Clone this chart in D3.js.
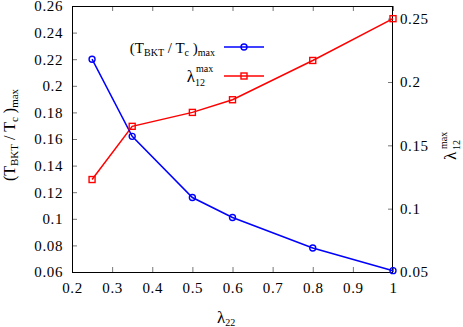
<!DOCTYPE html>
<html>
<head>
<meta charset="utf-8">
<script src="https://cdn.jsdelivr.net/npm/d3@7"></script>
<style>
  body { margin: 0; background: #fff; }
  svg { display: block; font-family: "Liberation Serif", "Times New Roman", Times, "DejaVu Serif", serif; }
</style>
</head>
<body>
<svg width="463" height="327"></svg>
<script>
// lambda_22 values (x)
const lambda22 = [0.25, 0.35, 0.5, 0.6, 0.8, 1.0];
// (T_BKT / T_c)_max on the left axis
const tbktMax = [0.22, 0.162, 0.116, 0.101, 0.078, 0.061];
// lambda_12^max on the right axis
const lambda12Max = [0.123, 0.165, 0.176, 0.186, 0.217, 0.25];

const xTicks = [0.2, 0.3, 0.4, 0.5, 0.6, 0.7, 0.8, 0.9, 1];
const yLeftTicks = [0.06, 0.08, 0.1, 0.12, 0.14, 0.16, 0.18, 0.2, 0.22, 0.24, 0.26];
const yRightTicks = [0.05, 0.1, 0.15, 0.2, 0.25];

const serif = '"Liberation Serif", "Times New Roman", Times, "DejaVu Serif", serif';

const svg = d3.select("svg"),
    margin = { top: 6, right: 70, bottom: 55, left: 72 },
    W = 463, H = 327,
    plotL = margin.left, plotR = W - margin.right,
    plotT = margin.top, plotB = H - margin.bottom;

const x = d3.scaleLinear().domain([0.2, 1]).range([plotL, plotR]);
const yL = d3.scaleLinear().domain([0.06, 0.26]).range([plotB, plotT]);
const yR = d3.scaleLinear().domain([0.05, 0.26]).range([plotB, plotT]);

const fmt = d => String(d);

// inward ticks, serif labels
function style(g) {
  g.select(".domain").remove();
  g.attr("font-family", serif).attr("font-size", 15);
  g.selectAll(".tick line").attr("stroke", "#777");
  g.selectAll(".tick text").attr("fill", "#000").attr("letter-spacing", 0.6);
}

svg.append("g").attr("transform", `translate(0,${plotB})`)
    .call(d3.axisBottom(x).tickValues(xTicks).tickSize(-5).tickPadding(10).tickFormat(fmt))
    .call(style);
svg.append("g").attr("transform", `translate(0,${plotT})`)
    .call(d3.axisTop(x).tickValues(xTicks).tickSize(-5).tickFormat(""))
    .call(style);
svg.append("g").attr("transform", `translate(${plotL},0)`)
    .call(d3.axisLeft(yL).tickValues(yLeftTicks).tickSize(-5).tickPadding(9).tickFormat(fmt))
    .call(style);
svg.append("g").attr("transform", `translate(${plotR},0)`)
    .call(d3.axisRight(yR).tickValues(yRightTicks).tickSize(-5).tickPadding(7).tickFormat(fmt))
    .call(style);

// border
svg.append("rect")
    .attr("x", plotL + 0.5).attr("y", plotT + 0.5)
    .attr("width", plotR - plotL - 1).attr("height", plotB - plotT)
    .attr("fill", "none").attr("stroke", "#000").attr("stroke-width", 1);

// series
const blue = lambda22.map((v, i) => [x(v), yL(tbktMax[i])]);
const red = lambda22.map((v, i) => [x(v), yR(lambda12Max[i])]);
const line = d3.line();

svg.append("path").attr("d", line(red))
    .attr("fill", "none").attr("stroke", "#ff0000").attr("stroke-width", 1.5);
svg.append("path").attr("d", line(blue))
    .attr("fill", "none").attr("stroke", "#0000ff").attr("stroke-width", 1.5);

function circleMark(g, p) {
  g.append("circle").attr("cx", p[0]).attr("cy", p[1]).attr("r", 3)
    .attr("fill", "none").attr("stroke", "#0000ff").attr("stroke-width", 1.4);
}
function squareMark(g, p) {
  g.append("rect").attr("x", p[0] - 3).attr("y", p[1] - 3).attr("width", 6).attr("height", 6)
    .attr("fill", "none").attr("stroke", "#ff0000").attr("stroke-width", 1.4);
}
red.forEach(p => squareMark(svg, p));
blue.forEach(p => circleMark(svg, p));

// legend
const lg = svg.append("g");
const t1 = lg.append("text").attr("x", 215).attr("y", 53).attr("text-anchor", "end").attr("font-size", 15);
t1.append("tspan").text("(T");
t1.append("tspan").attr("font-size", 10).attr("dy", 3).text("BKT");
t1.append("tspan").attr("dy", -3).text(" / T");
t1.append("tspan").attr("font-size", 10).attr("dy", 3).text("c");
t1.append("tspan").attr("dy", -3).text(" )");
t1.append("tspan").attr("font-size", 10).attr("dy", 3).text("max");
lg.append("line").attr("x1", 224).attr("x2", 264).attr("y1", 47).attr("y2", 47)
    .attr("stroke", "#0000ff").attr("stroke-width", 1.5);
circleMark(lg, [244, 47]);

lg.append("text").attr("x", 195).attr("y", 82).attr("text-anchor", "end").attr("font-size", 17).text("λ");
lg.append("text").attr("x", 196).attr("y", 72).attr("font-size", 10).text("max");
lg.append("text").attr("x", 195).attr("y", 86).attr("font-size", 10).text("12");
lg.append("line").attr("x1", 224).attr("x2", 264).attr("y1", 76).attr("y2", 76)
    .attr("stroke", "#ff0000").attr("stroke-width", 1.5);
squareMark(lg, [244, 76]);

// x axis title
const xt = svg.append("text").attr("x", 217).attr("y", 323).attr("font-size", 17);
xt.append("tspan").text("λ");
xt.append("tspan").attr("font-size", 10).attr("dy", 3).text("22");

// left axis title
const yt = svg.append("text").attr("transform", "translate(15,135) rotate(-90)")
    .attr("text-anchor", "middle").attr("font-size", 16);
yt.append("tspan").text("(T");
yt.append("tspan").attr("font-size", 11).attr("dy", 3).text("BKT");
yt.append("tspan").attr("dy", -3).text(" / T");
yt.append("tspan").attr("font-size", 11).attr("dy", 3).text("c");
yt.append("tspan").attr("dy", -3).text(" )");
yt.append("tspan").attr("font-size", 11).attr("dy", 3).text("max");

// right axis title
const rt = svg.append("g").attr("transform", "translate(456,160) rotate(-90)");
rt.append("text").attr("x", 0).attr("y", 0).attr("font-size", 17).text("λ");
rt.append("text").attr("x", 11).attr("y", -9).attr("font-size", 10).text("max");
rt.append("text").attr("x", 10).attr("y", 4).attr("font-size", 10).text("12");
</script>
</body>
</html>
